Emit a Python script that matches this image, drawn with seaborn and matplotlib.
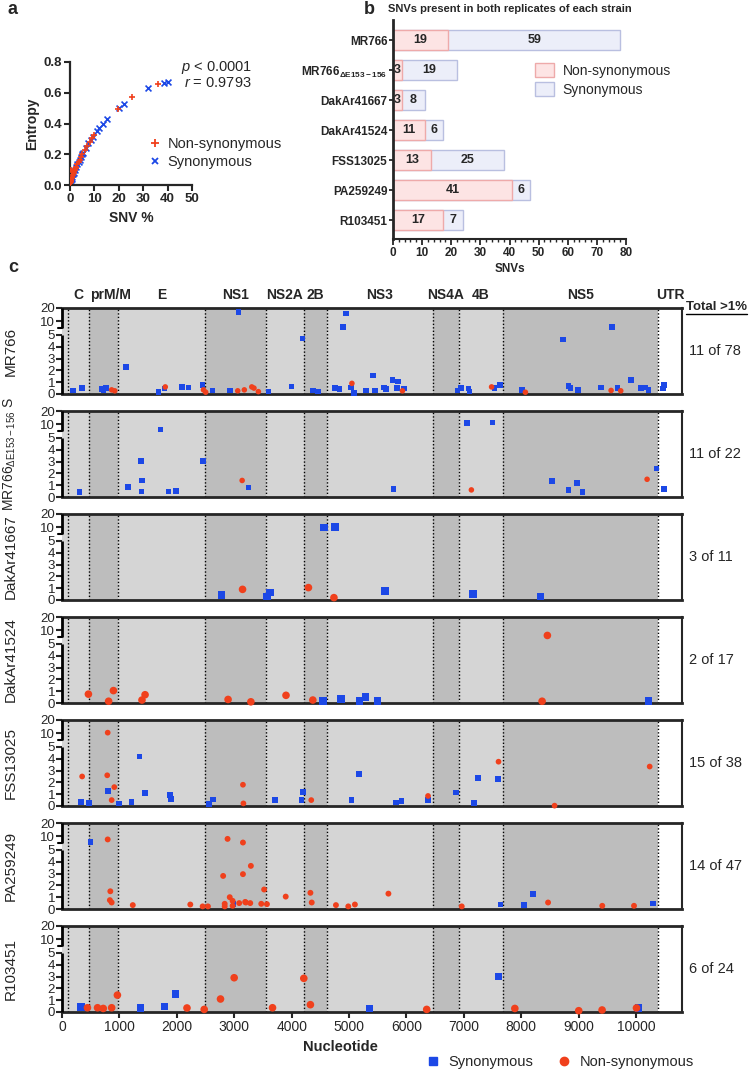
import numpy as np
import pandas as pd
import matplotlib
matplotlib.use('Agg')
import matplotlib.pyplot as plt
import matplotlib.transforms as mtransforms
from matplotlib.lines import Line2D
from matplotlib.patches import Patch
from matplotlib.ticker import MultipleLocator, NullLocator
import seaborn as sns

# --- colours ---
RED = '#f0401c'
BLUE = '#1c48e6'
NS_FILL, NS_EDGE = '#fde4e4', '#eeaaaa'
SYN_FILL, SYN_EDGE = '#eceef9', '#b9bfe0'
LIGHT, DARK = '#d5d5d5', '#bdbdbd'

# --- panel a: SNV % vs entropy ---
A_NS_PCT = [0.1, 0.2, 0.3, 0.4, 0.5, 0.6, 0.8, 1.0, 1.2, 1.5, 1.8, 2.0, 2.3, 2.6, 3.0,
            3.5, 4.0, 4.5, 5.0, 6.0, 7.0, 8.0, 9.0, 10.0, 19.5, 25.5, 36.0, 0.4, 1.0]
A_NS_ENT = [0.01, 0.015, 0.02, 0.025, 0.03, 0.035, 0.045, 0.055, 0.065, 0.08, 0.09, 0.10, 0.11,
            0.12, 0.135, 0.15, 0.165, 0.18, 0.2, 0.23, 0.255, 0.28, 0.305, 0.325, 0.495, 0.57,
            0.655, 0.1, 0.09]
A_S_PCT = [0.1, 0.3, 0.5, 0.7, 1.0, 1.3, 1.6, 2.0, 2.5, 3.0, 3.5, 4.0, 4.5, 5.0, 5.5, 6.5,
           7.5, 8.5, 9.5, 11.0, 12.0, 13.5, 15.0, 20.0, 22.0, 32.0, 38.5, 40.0]
A_S_ENT = [0.008, 0.02, 0.03, 0.04, 0.055, 0.07, 0.08, 0.1, 0.115, 0.135, 0.15, 0.165, 0.18,
           0.2, 0.21, 0.24, 0.27, 0.29, 0.31, 0.35, 0.37, 0.395, 0.43, 0.5, 0.53, 0.63, 0.665, 0.67]

# --- panel b: SNVs in both replicates ---
STRAINS = ['MR766', 'MR766d', 'DakAr41667', 'DakAr41524', 'FSS13025', 'PA259249', 'R103451']
STRAIN_LABELS = ['MR766', r'MR766$_{\mathbf{\Delta E153-156}}$', 'DakAr41667', 'DakAr41524',
                 'FSS13025', 'PA259249', 'R103451']
B_NONSYN = [19, 3, 3, 11, 13, 41, 17]
B_SYN = [59, 19, 8, 6, 25, 6, 7]

# --- panel c: genome map ---
BOUNDS = [107, 473, 980, 2489, 3545, 4223, 4613, 6464, 6914, 7676, 10376]
GENOME_END = 10800
SHADES = [LIGHT, LIGHT, DARK, LIGHT, DARK, LIGHT, DARK, LIGHT, DARK, LIGHT, DARK, 'white']
REGIONS = ['C', 'prM/M', 'E', 'NS1', 'NS2A', '2B', 'NS3', 'NS4A', '4B', 'NS5', 'UTR']
REGION_X = [290, 840, 1735, 3017, 3884, 4418, 5540, 6690, 7295, 9026, 10600]

C_LABELS = ['MR766', r'MR766$_{\Delta\mathregular{E153-156}}$ S', 'DakAr41667', 'DakAr41524',
            'FSS13025', 'PA259249', 'R103451']
ABOVE_1PCT = [11, 11, 3, 2, 15, 14, 6]
TOTAL_SNV = [78, 22, 11, 17, 38, 47, 24]
MARKER_S = [16, 16, 30, 30, 17, 18, 30]

MR766_S_NT = [192, 345, 689, 720, 766, 1110, 1684, 1783, 2089, 2204, 2449, 2625, 2931, 3076,
              3597, 3994, 4186, 4377, 4461, 4760, 4836, 4898, 4944, 5035, 5089, 5295, 5418,
              5456, 5609, 5647, 5754, 5838, 5853, 5953, 6887, 6948, 7078, 7101, 7537, 7629,
              8011, 8723, 8822, 8860, 8990, 9388, 9580, 9680, 9909, 10085, 10154, 10215,
              10467, 10483]
MR766_S_PCT = [0.3, 0.5, 0.4, 0.3, 0.5, 2.3, 0.15, 0.45, 0.6, 0.55, 0.75, 0.3, 0.3, 17, 0.2,
               0.65, 4.7, 0.3, 0.2, 0.5, 0.4, 6.0, 16, 0.55, 0.1, 0.3, 1.55, 0.3, 0.55, 0.4,
               1.2, 0.5, 1.05, 0.45, 0.3, 0.5, 0.45, 0.2, 0.5, 0.75, 0.35, 4.6, 0.7, 0.5,
               0.35, 0.55, 6.0, 0.5, 1.2, 0.5, 0.55, 0.35, 0.45, 0.75]
MR766_N_NT = [865, 919, 1799, 2464, 2503, 3061, 3176, 3306, 3344, 3421, 5050, 5930, 7483,
              8072, 9565, 9733]
MR766_N_PCT = [0.35, 0.27, 0.6, 0.35, 0.15, 0.27, 0.35, 0.6, 0.5, 0.2, 0.9, 0.27, 0.6, 0.15,
               0.3, 0.27]

DEL_S_NT = [307, 1148, 1378, 1386, 1393, 1714, 1852, 1990, 2457, 3252, 5777, 7055, 7499, 8532,
            8822, 8968, 9067, 10352, 10483]
DEL_S_PCT = [0.4, 0.85, 3.05, 0.45, 1.4, 6.1, 0.45, 0.5, 3.05, 0.8, 0.7, 11, 11.5, 1.35, 0.6,
             1.2, 0.4, 2.4, 0.7]
DEL_N_NT = [3138, 7131, 10192]
DEL_N_PCT = [1.4, 0.6, 1.5]

D67_S_NT = [2778, 3566, 3620, 4569, 4760, 5624, 7162, 8333]
D67_S_PCT = [0.4, 0.3, 0.65, 10, 10.5, 0.75, 0.5, 0.3]
D67_N_NT = [3145, 4293, 4737]
D67_N_PCT = [0.9, 1.05, 0.2]

D24_S_NT = [4545, 4859, 5181, 5288, 5495, 10215]
D24_S_PCT = [0.15, 0.35, 0.15, 0.5, 0.15, 0.15]
D24_N_NT = [460, 812, 896, 1393, 1447, 2893, 3290, 3902, 4369, 8363, 8455]
D24_N_PCT = [0.75, 0.15, 1.05, 0.25, 0.7, 0.3, 0.1, 0.65, 0.25, 0.15, 6.3]

FSS_S_NT = [328, 466, 796, 995, 1210, 1348, 1448, 1886, 1900, 2561, 2630, 3705, 4173, 4196,
            5041, 5171, 5823, 5916, 6376, 6868, 7183, 7244, 7589]
FSS_S_PCT = [0.35, 0.28, 1.27, 0.22, 0.36, 4.2, 1.1, 0.95, 0.6, 0.17, 0.55, 0.5, 0.5, 1.2,
             0.5, 2.7, 0.3, 0.45, 0.5, 1.15, 0.25, 2.4, 2.3]
FSS_N_NT = [351, 788, 796, 865, 911, 3152, 3160, 4342, 6376, 7604, 8580, 10237]
FSS_N_PCT = [2.5, 2.6, 10.6, 0.5, 1.6, 1.8, 0.22, 0.5, 0.85, 3.75, 0.03, 3.34]

PA_S_NT = [496, 2987, 7638, 8045, 8211, 10291]
PA_S_PCT = [5.6, 0.41, 0.38, 0.33, 1.3, 0.47]
PA_N_NT = [796, 834, 842, 865, 1233, 2235, 2450, 2542, 2807, 2834, 2834, 2884, 2922, 2972,
           2972, 3087, 3152, 3152, 3191, 3202, 3279, 3290, 3471, 3521, 3570, 3897, 4327, 4350,
           4772, 4987, 5102, 5686, 6963, 8467, 9411, 9964]
PA_N_PCT = [7.8, 0.75, 1.5, 0.55, 0.33, 0.38, 0.22, 0.22, 2.8, 0.44, 0.22, 8.2, 1.0, 0.69,
            0.27, 0.5, 5.5, 2.95, 0.6, 0.55, 0.5, 3.65, 0.44, 1.65, 0.41, 1.05, 1.37, 0.55,
            0.33, 0.22, 0.38, 1.3, 0.22, 0.55, 0.27, 0.27]

R_S_NT = [328, 1364, 1786, 1978, 5355, 7604, 10045]
R_S_PCT = [0.42, 0.34, 0.45, 1.54, 0.28, 3.0, 0.36]
R_N_NT = [443, 619, 719, 865, 965, 2177, 2477, 2761, 2999, 3667, 4212, 4327, 6353, 7888, 9001,
          9408, 10007]
R_N_PCT = [0.36, 0.36, 0.3, 0.36, 1.43, 0.34, 0.22, 1.1, 2.9, 0.36, 2.85, 0.62, 0.22, 0.3,
           0.11, 0.17, 0.34]

PANEL_DATA = [
    (MR766_S_NT, MR766_S_PCT, MR766_N_NT, MR766_N_PCT),
    (DEL_S_NT, DEL_S_PCT, DEL_N_NT, DEL_N_PCT),
    (D67_S_NT, D67_S_PCT, D67_N_NT, D67_N_PCT),
    (D24_S_NT, D24_S_PCT, D24_N_NT, D24_N_PCT),
    (FSS_S_NT, FSS_S_PCT, FSS_N_NT, FSS_N_PCT),
    (PA_S_NT, PA_S_PCT, PA_N_NT, PA_N_PCT),
    (R_S_NT, R_S_PCT, R_N_NT, R_N_PCT),
]

# broken y axis: 0-5 linear, then a gap, then 5-20 compressed
GAP, K = 0.57, 0.114


def fwd(y):
    y = np.asarray(y, dtype=float)
    return np.where(y <= 5, y, 5 + GAP + (y - 5) * K)


def inv(t):
    t = np.asarray(t, dtype=float)
    return np.where(t <= 5, t, np.where(t < 5 + GAP, 5.0, 5 + (t - 5 - GAP) / K))


sns.set_style('ticks')
plt.rcParams['font.family'] = ['Liberation Sans', 'DejaVu Sans']
plt.rcParams['mathtext.fontset'] = 'custom'
plt.rcParams['mathtext.rm'] = 'Liberation Sans'
plt.rcParams['mathtext.it'] = 'Liberation Sans:italic'
plt.rcParams['mathtext.bf'] = 'Liberation Sans:bold'

W, H = 750, 1069
fig = plt.figure(figsize=(W / 100, H / 100), dpi=100)


def px_axes(left, top, right, bottom):
    return fig.add_axes([left / W, 1 - bottom / H, (right - left) / W, (bottom - top) / H])


def fig_xy(x, y):
    return x / W, 1 - y / H


# ---------------- panel a ----------------
ax_a = px_axes(70, 62, 192, 185)
sns.scatterplot(x=A_NS_PCT, y=A_NS_ENT, marker='+', color=RED, s=22, linewidth=1.2, ax=ax_a, zorder=3)
sns.scatterplot(x=A_S_PCT, y=A_S_ENT, marker='x', color=BLUE, s=18, linewidth=1.2, ax=ax_a, zorder=2)
ax_a.set_xlim(0, 50)
ax_a.set_ylim(0, 0.8)
ax_a.set_xticks(range(0, 51, 10))
ax_a.set_yticks([0, 0.2, 0.4, 0.6, 0.8])
ax_a.set_yticklabels(['0.0', '0.2', '0.4', '0.6', '0.8'])
for lab in ax_a.get_xticklabels() + ax_a.get_yticklabels():
    lab.set_fontweight('bold')
    lab.set_fontsize(9.5)
ax_a.tick_params(width=1.5, length=4, pad=2)
for sp in ['left', 'bottom']:
    ax_a.spines[sp].set_linewidth(1.6)
sns.despine(ax=ax_a)
ax_a.set_xlabel('SNV %', fontsize=10, fontweight='bold', labelpad=4)
ax_a.set_ylabel('Entropy', fontsize=10, fontweight='bold', labelpad=3)

fig.text(*fig_xy(252, 67), r'$p$ < 0.0001', ha='right', va='center', fontsize=10.5)
fig.text(*fig_xy(252, 83), r'$r$ = 0.9793', ha='right', va='center', fontsize=10.5)
fig.legend(handles=[Line2D([], [], marker='+', color=RED, ls='', ms=6, mew=1.3),
                    Line2D([], [], marker='x', color=BLUE, ls='', ms=5, mew=1.3)],
           labels=['Non-synonymous', 'Synonymous'], loc='center left',
           bbox_to_anchor=fig_xy(140, 153), frameon=False, fontsize=10.5,
           handlelength=1.0, handletextpad=0.4, labelspacing=0.3, borderpad=0)

fig.text(*fig_xy(8, 10), 'a', fontsize=13, fontweight='bold', va='center')

# ---------------- panel b ----------------
ax_b = px_axes(393, 20, 626, 239)
totals = [n + s for n, s in zip(B_NONSYN, B_SYN)]
sns.barplot(x=totals, y=STRAINS, orient='h', color=SYN_FILL, edgecolor=SYN_EDGE,
            linewidth=1, width=0.67, saturation=1, ax=ax_b)
sns.barplot(x=B_NONSYN, y=STRAINS, orient='h', color=NS_FILL, edgecolor=NS_EDGE,
            linewidth=1, width=0.67, saturation=1, ax=ax_b)
for i, (n, s) in enumerate(zip(B_NONSYN, B_SYN)):
    ax_b.text(max(n / 2, 1.5), i, str(n), ha='center', va='center', fontsize=9, fontweight='bold')
    ax_b.text(n + s / 2, i, str(s), ha='center', va='center', fontsize=9, fontweight='bold')
ax_b.set_xlim(0, 80)
ax_b.set_ylim(6.63, -0.67)
ax_b.xaxis.set_major_locator(MultipleLocator(10))
ax_b.xaxis.set_minor_locator(MultipleLocator(2))
ax_b.set_yticks(range(len(STRAINS)))
ax_b.set_yticklabels(STRAIN_LABELS)
for lab in ax_b.get_xticklabels() + ax_b.get_yticklabels():
    lab.set_fontweight('bold')
    lab.set_fontsize(8.5)
ax_b.tick_params(axis='x', width=1.3, length=4, pad=2)
ax_b.tick_params(axis='x', which='minor', width=1, length=2.5)
ax_b.tick_params(axis='y', width=1.3, length=3, pad=1)
sns.despine(ax=ax_b)
ax_b.spines['left'].set_linewidth(2)
ax_b.spines['bottom'].set_linewidth(1.5)
ax_b.set_xlabel('SNVs', fontsize=8.5, fontweight='bold', labelpad=3)
ax_b.set_ylabel('')
ax_b.set_title('SNVs present in both replicates of each strain', fontsize=8,
               fontweight='bold', pad=6)
fig.legend(handles=[Patch(fc=NS_FILL, ec=NS_EDGE), Patch(fc=SYN_FILL, ec=SYN_EDGE)],
           labels=['Non-synonymous', 'Synonymous'], loc='center left',
           bbox_to_anchor=fig_xy(528, 80), frameon=False, fontsize=10,
           handlelength=1.4, handleheight=1.1, handletextpad=0.6, labelspacing=0.35, borderpad=0)
fig.text(*fig_xy(364, 10), 'b', fontsize=13, fontweight='bold', va='center')

# ---------------- panel c ----------------
fig.text(*fig_xy(8, 268), 'c', fontsize=13, fontweight='bold', va='center')
tops = [308 + i * 103 for i in range(7)]
edges = [0] + BOUNDS + [GENOME_END]
T_TOP = float(fwd(20))
axes_c = []
for i, (label, data) in enumerate(zip(C_LABELS, PANEL_DATA)):
    s_nt, s_pct, n_nt, n_pct = data
    ax = px_axes(62, tops[i], 682, tops[i] + 86)
    axes_c.append(ax)
    ax.set_yscale('function', functions=(fwd, inv))
    ax.set_xlim(0, GENOME_END)
    ax.set_ylim(0, 20)
    for j in range(len(edges) - 1):
        ax.axvspan(edges[j], edges[j + 1], color=SHADES[j], lw=0, zorder=0)
    for b in BOUNDS:
        ax.axvline(b, color='k', lw=1, ls=(0, (1, 1.5)), zorder=1)

    df = pd.DataFrame({
        'nt': s_nt + n_nt,
        'pct': s_pct + n_pct,
        'kind': ['Synonymous'] * len(s_nt) + ['Non-synonymous'] * len(n_nt),
    })
    sns.scatterplot(data=df, x='nt', y='pct', hue='kind', style='kind',
                    palette={'Synonymous': BLUE, 'Non-synonymous': RED},
                    markers={'Synonymous': 's', 'Non-synonymous': 'o'},
                    s=MARKER_S[i], linewidth=0, legend=False, ax=ax, zorder=3)
    for coll in ax.collections:
        coll.set_clip_on(False)

    ax.set_yticks([0, 1, 2, 3, 4, 5, 10, 20])
    ax.set_yticklabels(['0', '1', '2', '3', '4', '5', '10', '20'], fontsize=9.5)
    ax.yaxis.set_minor_locator(NullLocator())
    ax.tick_params(axis='y', width=1.5, length=4, pad=1)
    ax.set_xlabel('')
    ax.set_ylabel(label, fontsize=10 if i == 1 else 11)
    ax.yaxis.set_label_coords(-(62 - 18) / 620, 0.5)

    ax.spines['left'].set_visible(False)
    ax.spines['top'].set_linewidth(2)
    ax.spines['bottom'].set_linewidth(2)
    ax.spines['right'].set_linewidth(1.5)
    # hand-drawn broken left spine
    f5 = 5 / T_TOP
    fu = (5 + GAP) / T_TOP
    ax.plot([0, 0], [0, f5], transform=ax.transAxes, color='k', lw=2, clip_on=False,
            solid_capstyle='butt', zorder=5)
    ax.plot([0, 0], [fu, 1], transform=ax.transAxes, color='k', lw=2, clip_on=False,
            solid_capstyle='butt', zorder=5)
    ax.plot([-0.0065, 0], [fu, fu], transform=ax.transAxes, color='k', lw=1.5, clip_on=False,
            zorder=5)

    if i < 6:
        ax.tick_params(axis='x', bottom=False, labelbottom=False)
    else:
        ax.set_xticks(range(0, 10001, 1000))
        ax.set_xticklabels([str(v) for v in range(0, 10001, 1000)], fontsize=10)
        ax.tick_params(axis='x', width=1.5, length=4, pad=2)

    fig.text(*fig_xy(689, tops[i] + 43), f'{ABOVE_1PCT[i]} of {TOTAL_SNV[i]}',
             fontsize=10.5, va='center')

# region names above the first panel
trans = mtransforms.blended_transform_factory(axes_c[0].transData, axes_c[0].transAxes)
for name, x in zip(REGIONS, REGION_X):
    axes_c[0].text(x, 1.155, name, transform=trans, ha='center', va='center',
                   fontsize=10, fontweight='bold')

tot = fig.text(*fig_xy(686, 307), 'Total >1%', fontsize=9.5, fontweight='bold', va='center')
fig.canvas.draw()
bb = tot.get_window_extent().transformed(fig.transFigure.inverted())
fig.add_artist(Line2D([bb.x0, bb.x1], [bb.y0 - 0.001, bb.y0 - 0.001], color='k', lw=1,
                      transform=fig.transFigure))

fig.text(*fig_xy(340, 1047), 'Nucleotide', fontsize=10.5, fontweight='bold', ha='center',
         va='center')
fig.legend(handles=[Line2D([], [], marker='s', color=BLUE, ls='', ms=6),
                    Line2D([], [], marker='o', color=RED, ls='', ms=6)],
           labels=['Synonymous', 'Non-synonymous'], ncol=2, loc='center left',
           bbox_to_anchor=fig_xy(418, 1062), frameon=False, fontsize=10.5,
           columnspacing=1.6, handlelength=1.0, handletextpad=0.6, borderpad=0)

fig.savefig('out.png', dpi=100)
